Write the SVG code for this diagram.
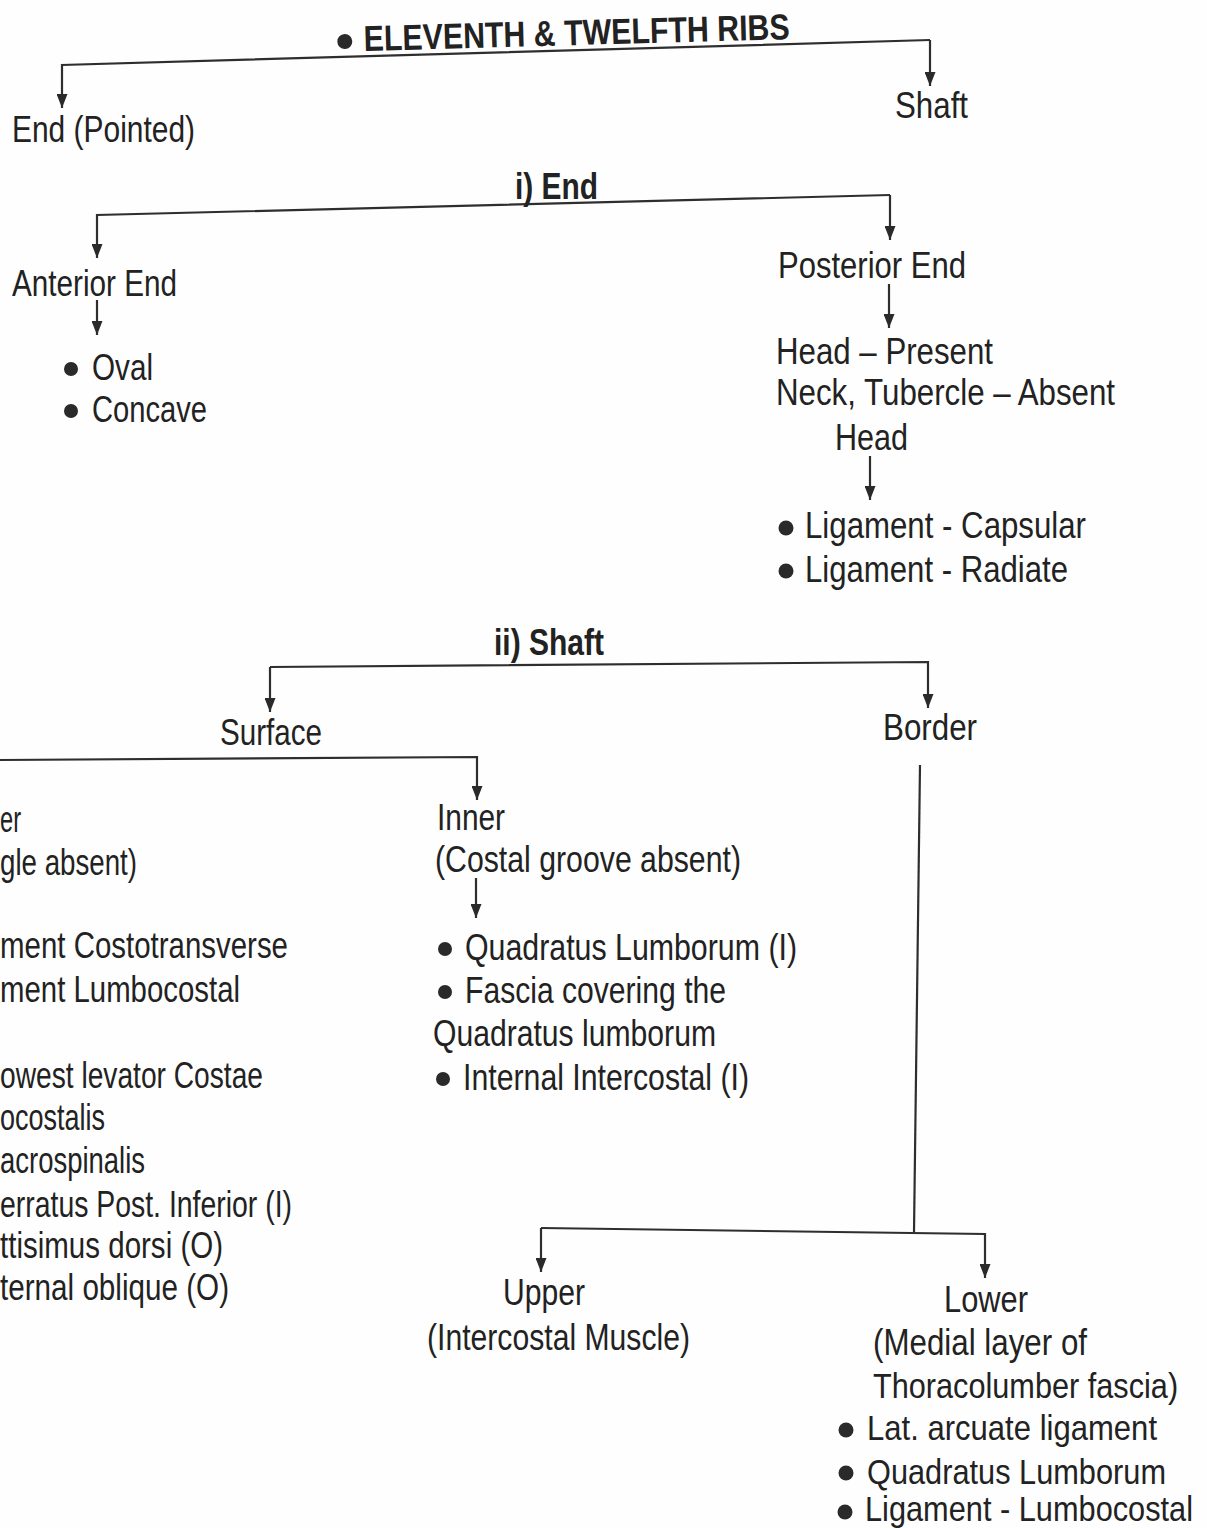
<svg xmlns="http://www.w3.org/2000/svg" width="1207" height="1528" viewBox="0 0 1207 1528">
<style>
text{font-family:"Liberation Sans",Arial,sans-serif;font-size:36px;fill:#222222}
.b{font-weight:bold}
.c{fill:none;stroke:#2e2e2e;stroke-width:2.2}
.dot{fill:#2a2a2a}
</style>
<defs>
<marker id="ah" viewBox="0 0 14 11" refX="14" refY="5.5" markerWidth="14" markerHeight="11" markerUnits="userSpaceOnUse" orient="auto">
<path d="M0,0 L14,5.5 L0,11 z" fill="#2a2a2a"/>
</marker>
</defs>
<rect width="1207" height="1528" fill="#fefefe"/>
<g id="connectors">
<path class="c" d="M930,40 L62,65 L62,108" marker-end="url(#ah)"/>
<path class="c" d="M930,40 L930,86" marker-end="url(#ah)"/>
<path class="c" d="M890,195 L97,215 L97,258" marker-end="url(#ah)"/>
<path class="c" d="M890,195 L890,240" marker-end="url(#ah)"/>
<path class="c" d="M97,300 L97,335" marker-end="url(#ah)"/>
<path class="c" d="M889,284 L889,328" marker-end="url(#ah)"/>
<path class="c" d="M870,456 L870,500" marker-end="url(#ah)"/>
<path class="c" d="M270,667 L928,662 L928,708" marker-end="url(#ah)"/>
<path class="c" d="M270,667 L270,712" marker-end="url(#ah)"/>
<path class="c" d="M0,760 L477,757 L477,800" marker-end="url(#ah)"/>
<path class="c" d="M476,878 L476,918" marker-end="url(#ah)"/>
<path class="c" d="M920,765 L914,1232"/>
<path class="c" d="M541,1228 L985,1234 L985,1278" marker-end="url(#ah)"/>
<path class="c" d="M541,1228 L541,1272" marker-end="url(#ah)"/>
</g>
<g id="title" transform="rotate(-1.6 578 45)">
<circle class="dot" cx="345" cy="35" r="7.5"/>
<text class="b" x="364" y="45" textLength="426" lengthAdjust="spacingAndGlyphs">ELEVENTH &amp; TWELFTH RIBS</text>
</g>
<g id="end-pointed"><text x="12" y="142" textLength="183" lengthAdjust="spacingAndGlyphs">End (Pointed)</text></g>
<g id="shaft"><text x="895" y="118" textLength="73" lengthAdjust="spacingAndGlyphs">Shaft</text></g>
<g id="i-end"><text class="b" x="515" y="199" textLength="83" lengthAdjust="spacingAndGlyphs">i) End</text></g>
<g id="anterior-end"><text x="12" y="296" textLength="165" lengthAdjust="spacingAndGlyphs">Anterior End</text></g>
<g id="anterior-items">
<circle class="dot" cx="71" cy="369" r="7"/>
<text x="92" y="380" textLength="61" lengthAdjust="spacingAndGlyphs">Oval</text>
<circle class="dot" cx="71" cy="411" r="7"/>
<text x="92" y="422" textLength="115" lengthAdjust="spacingAndGlyphs">Concave</text>
</g>
<g id="posterior-end"><text x="778" y="278" textLength="188" lengthAdjust="spacingAndGlyphs">Posterior End</text></g>
<g id="posterior-items">
<text x="776" y="364" textLength="217" lengthAdjust="spacingAndGlyphs">Head – Present</text>
<text x="776" y="405" textLength="339" lengthAdjust="spacingAndGlyphs">Neck, Tubercle – Absent</text>
<text x="835" y="450" textLength="73" lengthAdjust="spacingAndGlyphs">Head</text>
</g>
<g id="head-items">
<circle class="dot" cx="786" cy="528" r="7.5"/>
<text x="805" y="538" textLength="281" lengthAdjust="spacingAndGlyphs">Ligament - Capsular</text>
<circle class="dot" cx="786" cy="571" r="7.5"/>
<text x="805" y="582" textLength="263" lengthAdjust="spacingAndGlyphs">Ligament - Radiate</text>
</g>
<g id="ii-shaft"><text class="b" x="494" y="655" textLength="110" lengthAdjust="spacingAndGlyphs">ii) Shaft</text></g>
<g id="surface"><text x="220" y="745" textLength="102" lengthAdjust="spacingAndGlyphs">Surface</text></g>
<g id="border"><text x="883" y="740" textLength="94" lengthAdjust="spacingAndGlyphs">Border</text></g>
<g id="outer">
<text x="0" y="832" textLength="21" lengthAdjust="spacingAndGlyphs">er</text>
<text x="0" y="875" textLength="137" lengthAdjust="spacingAndGlyphs">gle absent)</text>
<text x="0" y="958" textLength="288" lengthAdjust="spacingAndGlyphs">ment Costotransverse</text>
<text x="0" y="1002" textLength="240" lengthAdjust="spacingAndGlyphs">ment Lumbocostal</text>
<text x="0" y="1088" textLength="263" lengthAdjust="spacingAndGlyphs">owest levator Costae</text>
<text x="0" y="1130" textLength="105" lengthAdjust="spacingAndGlyphs">ocostalis</text>
<text x="0" y="1173" textLength="145" lengthAdjust="spacingAndGlyphs">acrospinalis</text>
<text x="0" y="1217" textLength="292" lengthAdjust="spacingAndGlyphs">erratus Post. Inferior (I)</text>
<text x="0" y="1258" textLength="223" lengthAdjust="spacingAndGlyphs">ttisimus dorsi (O)</text>
<text x="0" y="1300" textLength="229" lengthAdjust="spacingAndGlyphs">ternal oblique (O)</text>
</g>
<g id="inner">
<text x="437" y="830" textLength="68" lengthAdjust="spacingAndGlyphs">Inner</text>
<text x="435" y="872" textLength="306" lengthAdjust="spacingAndGlyphs">(Costal groove absent)</text>
</g>
<g id="inner-items">
<circle class="dot" cx="445" cy="949" r="7"/>
<text x="465" y="960" textLength="332" lengthAdjust="spacingAndGlyphs">Quadratus Lumborum (I)</text>
<circle class="dot" cx="445" cy="992" r="7"/>
<text x="465" y="1003" textLength="261" lengthAdjust="spacingAndGlyphs">Fascia covering the</text>
<text x="433" y="1046" textLength="283" lengthAdjust="spacingAndGlyphs">Quadratus lumborum</text>
<circle class="dot" cx="443" cy="1079" r="7"/>
<text x="463" y="1090" textLength="286" lengthAdjust="spacingAndGlyphs">Internal Intercostal (I)</text>
</g>
<g id="upper">
<text x="503" y="1305" textLength="82" lengthAdjust="spacingAndGlyphs">Upper</text>
<text x="427" y="1350" textLength="263" lengthAdjust="spacingAndGlyphs">(Intercostal Muscle)</text>
</g>
<g id="lower">
<text x="944" y="1312" textLength="84" lengthAdjust="spacingAndGlyphs">Lower</text>
<text x="873" y="1355" textLength="214" lengthAdjust="spacingAndGlyphs">(Medial layer of</text>
<text transform="translate(873,1398) scale(0.852,1)">Thoracolumber fascia)</text>
</g>
<g id="lower-items">
<circle class="dot" cx="846" cy="1430" r="7.5"/>
<text transform="translate(867,1440) scale(0.863,1)">Lat. arcuate ligament</text>
<circle class="dot" cx="846" cy="1473" r="7.5"/>
<text transform="translate(867,1484) scale(0.854,1)">Quadratus Lumborum</text>
<circle class="dot" cx="845" cy="1512" r="7.5"/>
<text transform="translate(865,1521) scale(0.854,1)">Ligament - Lumbocostal</text>
</g>
</svg>
